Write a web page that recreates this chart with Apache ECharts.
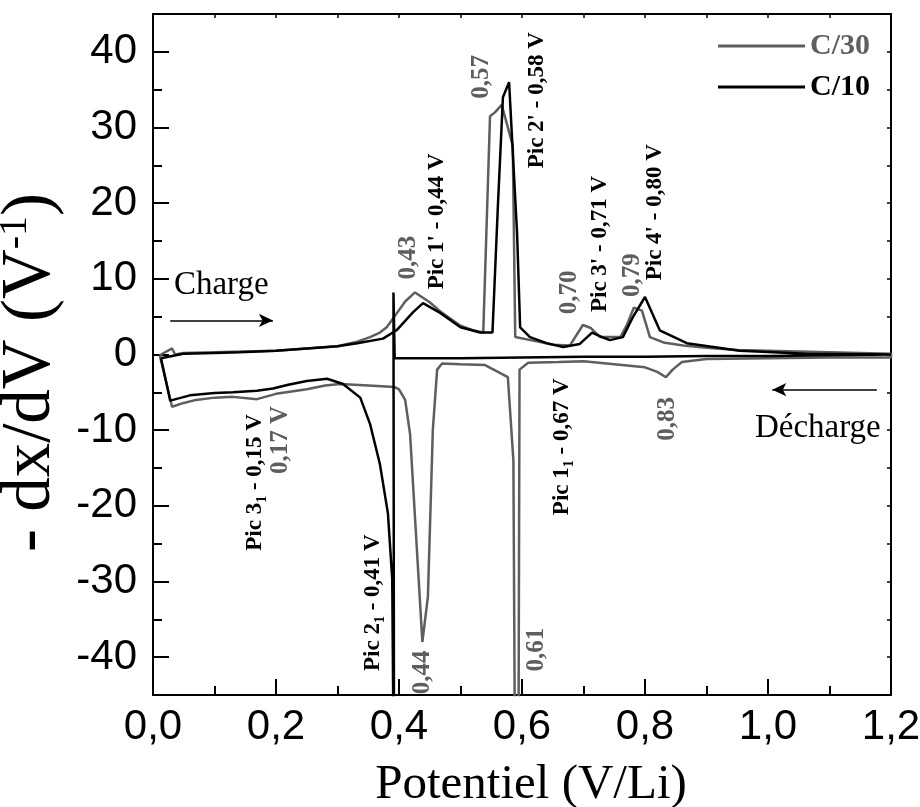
<!DOCTYPE html>
<html>
<head>
<meta charset="utf-8">
<script src="https://cdn.jsdelivr.net/npm/echarts@6/dist/echarts.min.js"></script>
<style>
html,body{margin:0;padding:0;background:#fff;}
#chart{width:920px;height:807px;}
</style>
</head>
<body>
<div id="chart"></div>
<script>
// ---- data ----
const xTicks = [0, 0.2, 0.4, 0.6, 0.8, 1.0, 1.2];
const yTicks = [-40, -30, -20, -10, 0, 10, 20, 30, 40];
const yMinorTicks = [-35, -25, -15, -5, 5, 15, 25, 35];

const seriesNames = ['C/30', 'C/10'];

// C/30 loop: charge (left to right) then discharge (right to left)
const c30Potential = [
  0.011, 0.031, 0.036, 0.05, 0.10, 0.15, 0.20, 0.25, 0.30, 0.332, 0.353, 0.369, 0.38, 0.396, 0.41, 0.426,
  0.45, 0.47, 0.50, 0.52, 0.537, 0.548, 0.556, 0.567, 0.585, 0.589, 0.62, 0.65, 0.678, 0.699, 0.712,
  0.727, 0.76, 0.771, 0.782, 0.795, 0.808, 0.83, 0.862, 0.9, 0.95, 1.0, 1.1, 1.2,
  1.2, 1.1, 1.0, 0.9, 0.86, 0.845, 0.834, 0.82, 0.80, 0.75, 0.70, 0.66, 0.61, 0.596, 0.594, 0.589,
  0.586, 0.577, 0.54, 0.50, 0.47, 0.462, 0.455, 0.447, 0.438, 0.418, 0.41, 0.40, 0.393, 0.35, 0.304,
  0.28, 0.25, 0.20, 0.169, 0.13, 0.10, 0.07, 0.05, 0.031, 0.011
];
const c30Value = [
  -0.1, 0.8, 0.0, 0.2, 0.3, 0.4, 0.5, 0.8, 1.1, 1.7, 2.3, 2.9, 3.6, 5.4, 7.0, 8.2,
  6.9, 5.5, 3.8, 3.2, 2.9, 31.5, 32.0, 33.0, 27.6, 2.3, 1.8, 1.3, 1.2, 3.9, 3.5,
  2.3, 2.3, 4.0, 6.2, 5.8, 2.3, 1.6, 1.2, 0.9, 0.6, 0.5, 0.3, 0.1,
  -0.4, -0.4, -0.5, -0.6, -1.0, -2.0, -3.0, -2.3, -1.7, -1.3, -0.9, -1.0, -1.1, -2.0, -60, -60,
  -14, -3.0, -1.4, -1.3, -1.2, -2.0, -10, -32, -38, -10.5, -6.0, -4.6, -4.3, -4.1, -3.9,
  -4.1, -4.6, -5.2, -5.9, -5.6, -5.7, -6.0, -6.4, -6.9, -0.1
];

// C/10 loop
const c10Potential = [
  0.013, 0.049, 0.10, 0.141, 0.20, 0.25, 0.30, 0.332, 0.374, 0.396, 0.423, 0.439, 0.467, 0.50, 0.532,
  0.552, 0.561, 0.569, 0.579, 0.592, 0.597, 0.613, 0.64, 0.667, 0.694, 0.714, 0.73, 0.743, 0.764,
  0.78, 0.80, 0.824, 0.868, 0.954, 1.063, 1.2,
  1.2, 1.1, 1.0, 0.9, 0.8, 0.7, 0.6, 0.5, 0.45, 0.393, 0.391, 0.392, 0.389, 0.389, 0.382, 0.369,
  0.353, 0.337, 0.309, 0.283, 0.25, 0.22, 0.195, 0.169, 0.13, 0.10, 0.06, 0.028, 0.013
];
const c10Value = [
  -0.5, 0.1, 0.2, 0.3, 0.5, 0.8, 1.1, 1.5, 2.1, 3.2, 5.6, 6.8, 5.5, 3.6, 2.9,
  2.9, 20, 34, 36, 16, 3.6, 2.3, 1.5, 1.0, 1.4, 2.9, 2.3, 1.9, 2.3,
  4.9, 7.6, 3.2, 1.5, 0.5, 0.1, 0.0,
  -0.1, -0.1, -0.2, -0.2, -0.3, -0.3, -0.4, -0.5, -0.5, -0.5, 8.2, -60, -60, -29.7, -21, -14.5,
  -9.2, -5.7, -3.9, -3.2, -3.5, -4.0, -4.5, -4.8, -5.0, -5.1, -5.4, -6.1, -0.5
];

// annotations: text, potential, value, series index (0 = grey, 1 = black)
const annText = [
  '0,43', "Pic 1' - 0,44 V", '0,57', "Pic 2' - 0,58 V", '0,70', "Pic 3' - 0,71 V", '0,79',
  "Pic 4' - 0,80 V", '0,83', '0,61', 'Pic 1{sub|1} - 0,67 V', 'Pic 2{sub|1} - 0,41 V',
  'Pic 3{sub|1} - 0,15 V', '0,17 V', '0,44'
];
const annX = [0.416, 0.462, 0.535, 0.624, 0.678, 0.727, 0.779, 0.816, 0.836, 0.624, 0.665, 0.358, 0.166, 0.207, 0.439];
const annY = [12.8, 17.6, 36.7, 33.6, 8.2, 14.6, 10.5, 18.8, -8.5, -39, -12.2, -32.8, -16.9, -11.3, -42];
const annSeries = [0, 1, 0, 1, 0, 1, 0, 1, 0, 0, 1, 1, 1, 0, 0];

const dirText = ['Charge', 'Décharge'];
const dirTextX = [0.111, 1.081];
const dirTextY = [9.2, -9.8];
const arrowFromX = [0.028, 1.177];
const arrowToX = [0.195, 1.007];
const arrowY = [4.5, -4.65];

// ---- styles ----
const GREY = '#5e5e5e';
const BLACK = '#000000';
const colors = [GREY, BLACK];
const SERIF = '"Liberation Serif", "Times New Roman", serif';
const SANS = '"Liberation Sans", Arial, sans-serif';

function pairs(xs, ys) { return xs.map((x, i) => [x, ys[i]]); }

const annData = annText.map((t, i) => ({
  coord: [annX[i], annY[i]],
  label: {
    show: true, formatter: t, rotate: 90, position: 'inside',
    color: colors[annSeries[i]],
    fontFamily: SERIF, fontWeight: 'bold',
    fontSize: annSeries[i] === 0 ? 25 : 23,
    lineHeight: 28,
    rich: { sub: { fontSize: 14, lineHeight: 12, verticalAlign: 'bottom', fontFamily: SERIF, fontWeight: 'bold', color: BLACK } }
  }
}));

const dirData = dirText.map((t, i) => ({
  coord: [dirTextX[i], dirTextY[i]],
  label: { show: true, formatter: t, position: 'inside', color: BLACK, fontFamily: SERIF, fontSize: 33 }
}));

const arrowData = arrowY.map((y, i) => [
  { coord: [arrowFromX[i], y] }, { coord: [arrowToX[i], y] }
]);

const chart = echarts.init(document.getElementById('chart'), null, { renderer: 'canvas' });

const option = {
  backgroundColor: '#ffffff',
  animation: false,
  grid: { left: 153, right: 29, top: 14, bottom: 112, containLabel: false, outerBoundsMode: 'none' },
  legend: {
    orient: 'vertical', left: 713, top: 26, itemWidth: 87, itemHeight: 3, itemGap: 11,
    icon: 'rect',
    data: [
      { name: seriesNames[0], textStyle: { color: GREY } },
      { name: seriesNames[1], textStyle: { color: BLACK } }
    ],
    textStyle: { fontFamily: SERIF, fontWeight: 'bold', fontSize: 30, lineHeight: 30, padding: [0, 0, 0, 0] }
  },
  xAxis: [
    {
      type: 'value', position: 'bottom', min: 0, max: 1.2, interval: 0.2,
      axisLine: { show: true, onZero: false, lineStyle: { color: BLACK, width: 2 } },
      axisTick: { show: true, inside: true, length: 16, lineStyle: { color: BLACK, width: 2 } },
      minorTick: { show: true, splitNumber: 2, length: 9, lineStyle: { color: BLACK, width: 2 } },
      splitLine: { show: false },
      axisLabel: {
        show: true, margin: 11, color: BLACK, fontFamily: SANS, fontSize: 42,
        formatter: v => v.toFixed(1).replace('.', ',')
      },
      name: 'Potentiel (V/Li)', nameLocation: 'middle', nameGap: 66,
      nameTextStyle: { fontFamily: SERIF, fontSize: 49, color: BLACK, padding: [0, 0, 0, 18] }
    },
    {
      type: 'value', position: 'top', min: 0, max: 1.2, interval: 0.1,
      axisLine: { show: true, onZero: false, lineStyle: { color: BLACK, width: 2 } },
      axisTick: { show: true, inside: true, length: 4, lineStyle: { color: BLACK, width: 1.5 } },
      axisLabel: { show: false }, splitLine: { show: false }
    }
  ],
  yAxis: [
    {
      type: 'value', position: 'left', min: -45, max: 45, interval: 5,
      axisLine: { show: true, onZero: false, lineStyle: { color: BLACK, width: 2 } },
      axisTick: { show: true, inside: true, length: 16, customValues: yTicks, lineStyle: { color: BLACK, width: 2 } },
      axisLabel: {
        show: true, customValues: yTicks, margin: 16, color: BLACK, fontFamily: SANS, fontSize: 42,
        formatter: v => String(v)
      },
      splitLine: { show: false },
      name: '- dx/dV (V{sup|-1})', nameLocation: 'middle', nameGap: 78,
      nameTextStyle: {
        fontFamily: SERIF, fontSize: 69, color: BLACK, lineHeight: 70, padding: [0, 36, 0, 0],
        rich: { sup: { fontFamily: SERIF, fontSize: 40, lineHeight: 36, verticalAlign: 'top', color: BLACK } }
      }
    },
    {
      type: 'value', position: 'left', min: -45, max: 45, interval: 5,
      axisLine: { show: false },
      axisTick: { show: true, inside: true, length: 9, customValues: yMinorTicks, lineStyle: { color: BLACK, width: 2 } },
      axisLabel: { show: false }, splitLine: { show: false }
    },
    {
      type: 'value', position: 'right', min: -45, max: 45, interval: 5,
      axisLine: { show: true, onZero: false, lineStyle: { color: BLACK, width: 2 } },
      axisTick: { show: true, inside: true, length: 4, lineStyle: { color: BLACK, width: 1.5 } },
      axisLabel: { show: false }, splitLine: { show: false }
    }
  ],
  series: [
    {
      name: seriesNames[0], type: 'line', xAxisIndex: 0, yAxisIndex: 0,
      data: pairs(c30Potential, c30Value), showSymbol: false, symbol: 'none', clip: true,
      lineStyle: { color: GREY, width: 2.5 }, itemStyle: { color: GREY }, z: 2,
      markPoint: { symbol: 'circle', symbolSize: 0, silent: true, data: annData.concat(dirData) }
    },
    {
      name: seriesNames[1], type: 'line', xAxisIndex: 0, yAxisIndex: 0,
      data: pairs(c10Potential, c10Value), showSymbol: false, symbol: 'none', clip: true,
      lineStyle: { color: BLACK, width: 2.5 }, itemStyle: { color: BLACK }, z: 3,
      markLine: {
        silent: true, symbol: ['none', 'arrow'], symbolSize: [10, 14],
        lineStyle: { color: BLACK, width: 1.5, type: 'solid' }, label: { show: false },
        data: arrowData
      }
    }
  ]
};
chart.setOption(option);
</script>
</body>
</html>
